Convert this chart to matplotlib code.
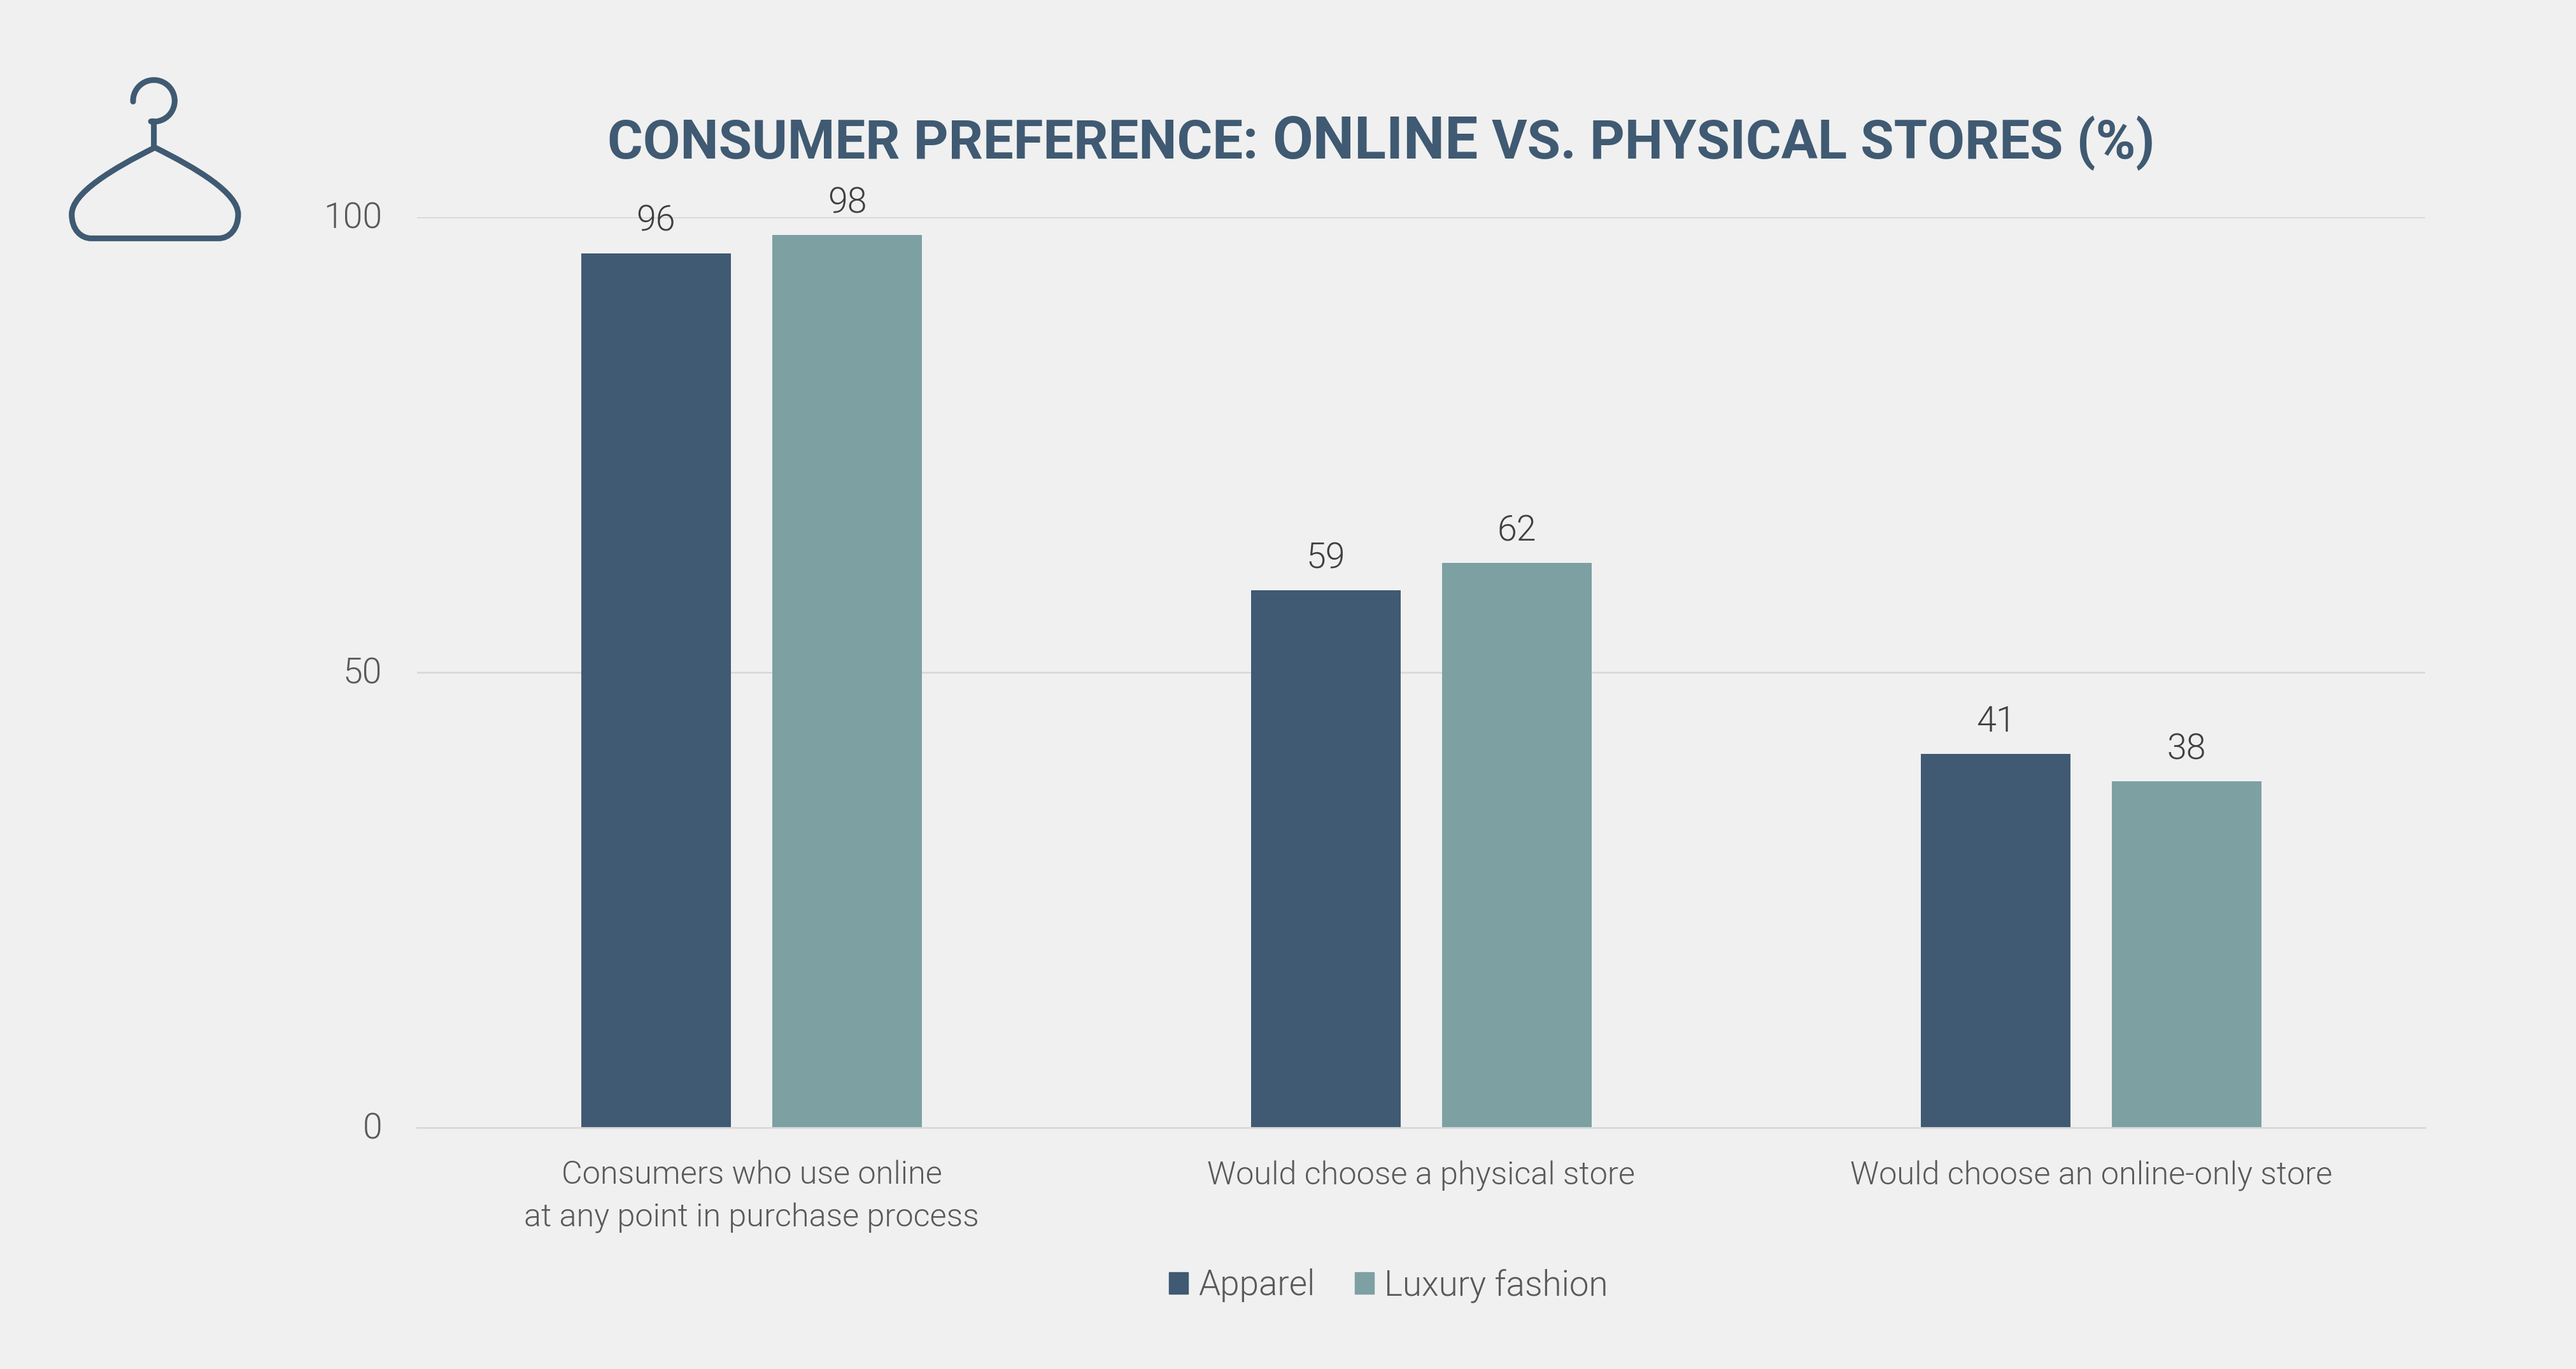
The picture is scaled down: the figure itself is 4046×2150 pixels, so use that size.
import matplotlib
matplotlib.use("Agg")
import matplotlib.pyplot as plt
from matplotlib.path import Path
from matplotlib.patches import PathPatch, Patch
from matplotlib.transforms import ScaledTranslation
import numpy as np

categories = ["Consumers who use online\nat any point in purchase process",
              "Would choose a physical store",
              "Would choose an online-only store"]
apparel = [96, 59, 41]
luxury = [98, 62, 38]
y_ticks = [0, 50, 100]
series_names = ["Apparel", "Luxury fashion"]

NAVY = "#3F5A72"
TEAL = "#7DA0A3"
BG = "#F0F0F0"
GRID = "#D9D9D9"
W, H = 4046, 2150

plt.rcParams["font.family"] = ["Roboto", "DejaVu Sans"]
fig = plt.figure(figsize=(W / 100, H / 100), dpi=100, facecolor=BG)
ax = fig.add_axes([655 / W, 1 - 1770.5 / H, (3809 - 655) / W, (1770.5 - 340.5) / H], facecolor=BG)

x = np.arange(len(categories))
bw, off = 0.2239, 0.1426
bars1 = ax.bar(x - off, apparel, bw, color=NAVY, zorder=3)
bars2 = ax.bar(x + off, luxury, bw, color=TEAL, zorder=3)
for bars in (bars1, bars2):
    for b in bars:
        ax.annotate(f"{b.get_height():.0f}", (b.get_x() + b.get_width() / 2, b.get_height()),
                    xytext=(0, 25), textcoords="offset points", ha="center", va="baseline",
                    fontsize=40, fontweight=300, color="#404040", zorder=4)

ax.set_xlim(-0.49952, 2.49857)
ax.set_ylim(0, 100)
ax.set_yticks(y_ticks)
ax.set_xticks(x)
ax.set_xticklabels(categories, fontsize=36.3, fontweight=300, color="#595959", linespacing=1.52)
ax.tick_params(axis="x", length=0, pad=37)
ax.tick_params(axis="y", length=0, pad=39.5)
up = ScaledTranslation(0, 3 / 100, fig.dpi_scale_trans)
for t in ax.get_yticklabels():
    t.set_fontsize(40); t.set_fontweight(300); t.set_color("#595959")
    t.set_transform(t.get_transform() + up)
ax.grid(axis="y", color=GRID, lw=2, zorder=0)
ax.set_axisbelow(True)
for s in ("top", "right", "left"):
    ax.spines[s].set_visible(False)
ax.spines["bottom"].set_color(GRID)
ax.spines["bottom"].set_linewidth(2)
ax.spines["bottom"].set_zorder(5)

# Legend
handles = [Patch(color=NAVY, label=series_names[0]), Patch(color=TEAL, label=series_names[1])]
leg = fig.legend(handles=handles, loc="center", bbox_to_anchor=(2180.7 / W, 1 - 2019 / H), ncol=2,
                 frameon=False, handlelength=0.55, handleheight=0.58,
                 handletextpad=0.29, columnspacing=1.15, borderpad=0, labelcolor="#595959",
                 prop={"size": 39.4, "weight": 300})

# Title in three runs
fig.canvas.draw()
r = fig.canvas.get_renderer()
cur = 954
runs = [("CONSUMER PREFERENCE:", 61.3), ("ONLINE", 66.5), ("VS. PHYSICAL STORES (%)", 61.3)]
for s, fs in runs:
    t = fig.text(cur / W, 1 - 249 / H, s, fontsize=fs, fontweight="bold", color=NAVY,
                 ha="left", va="baseline")
    cur = t.get_window_extent(r).x1 + 22

# Hanger icon (decorative), zoom-crop coordinates -> pixels
def px(zx, zy):
    return ((60 + zx / 3) / W, 1 - (90 + zy / 3) / H)

theta = np.radians(np.linspace(182, -98, 60))
hook = [px(545 + 98 * np.cos(a), 205 - 98 * np.sin(a)) for a in theta]
verts = hook + [px(545, 303), px(545, 425)]
codes = [Path.MOVETO] + [Path.LINETO] * (len(verts) - 1)
body = [(550, 425), (750, 525), (942, 640), (942, 740), (942, 810), (900, 853), (850, 853),
        (250, 853), (200, 853), (158, 810), (158, 740), (158, 640), (350, 525), (550, 425)]
body_codes = [Path.MOVETO, Path.CURVE4, Path.CURVE4, Path.CURVE4, Path.CURVE4, Path.CURVE4, Path.CURVE4,
              Path.LINETO, Path.CURVE4, Path.CURVE4, Path.CURVE4, Path.CURVE4, Path.CURVE4, Path.CURVE4]
fig.add_artist(PathPatch(Path(verts, codes), fc="none", ec=NAVY, lw=6.5, capstyle="round",
                         joinstyle="round", transform=fig.transFigure))
fig.add_artist(PathPatch(Path([px(*p) for p in body], body_codes), fc="none", ec=NAVY, lw=6.5,
                         joinstyle="miter", transform=fig.transFigure))

fig.savefig("out.png", dpi=100, facecolor=BG)
